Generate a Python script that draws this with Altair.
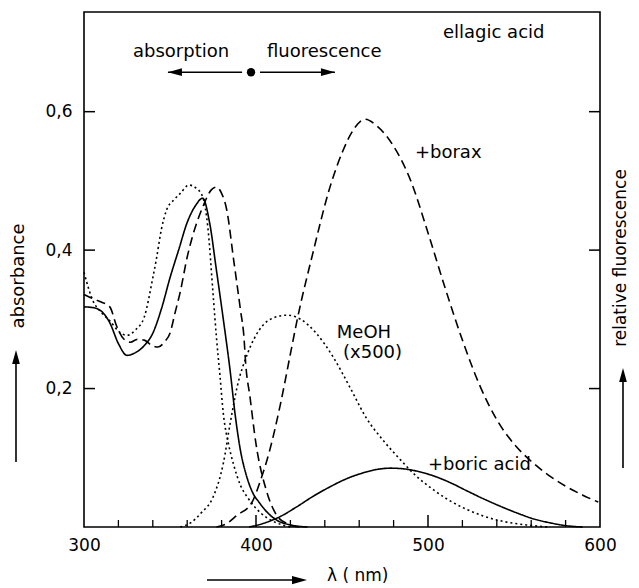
import altair as alt
import pandas as pd

# ---------------- data ----------------
# absorption spectra
abs_boric_wl = [300, 305, 310, 315, 320, 325, 330, 335, 340, 345, 350, 355, 360, 365, 369, 373, 377, 381, 385, 388, 391, 394, 398, 402, 407, 412, 420, 430]
abs_boric_v = [0.318, 0.317, 0.312, 0.295, 0.265, 0.248, 0.252, 0.262, 0.28, 0.315, 0.36, 0.40, 0.44, 0.465, 0.475, 0.44, 0.371, 0.30, 0.225, 0.16, 0.11, 0.078, 0.05, 0.035, 0.02, 0.01, 0.003, 0.0]

abs_meoh_wl = [300, 305, 310, 315, 320, 325, 330, 335, 340, 342, 345, 348, 352, 356, 361, 365, 369, 372, 375, 377, 379, 381, 384, 387, 391, 395, 400, 406, 412, 420]
abs_meoh_v = [0.368, 0.328, 0.31, 0.298, 0.283, 0.277, 0.285, 0.303, 0.36, 0.386, 0.43, 0.458, 0.472, 0.482, 0.494, 0.49, 0.477, 0.433, 0.338, 0.274, 0.22, 0.164, 0.12, 0.09, 0.06, 0.043, 0.027, 0.014, 0.006, 0.0]

abs_borax_wl = [300, 305, 310, 315, 319, 323, 327, 331, 335, 339, 343, 347, 350, 353, 356, 360, 363, 369, 374, 377, 380, 383, 387, 391, 393, 394, 396.5, 400, 406, 412, 418, 425]
abs_borax_v = [0.336, 0.33, 0.325, 0.318, 0.29, 0.272, 0.267, 0.271, 0.27, 0.263, 0.26, 0.268, 0.28, 0.31, 0.34, 0.39, 0.419, 0.462, 0.487, 0.491, 0.482, 0.458, 0.386, 0.313, 0.274, 0.236, 0.188, 0.12, 0.053, 0.017, 0.005, 0.0]

# fluorescence spectra
fl_meoh_wl = [356, 362, 368, 375, 381, 385, 389, 395, 402, 410, 418, 426, 435, 445, 455, 464, 474, 484, 493, 503, 512, 522, 532, 542, 557, 570]
fl_meoh_v = [0.0, 0.006, 0.02, 0.043, 0.092, 0.15, 0.202, 0.25, 0.285, 0.302, 0.306, 0.3, 0.28, 0.245, 0.2, 0.158, 0.125, 0.097, 0.074, 0.054, 0.039, 0.026, 0.016, 0.009, 0.003, 0.0]

fl_borax_wl = [377, 383, 389, 397.5, 403, 408, 414, 420, 424, 433, 443, 450.6, 456.4, 463.4, 470, 480, 490, 500, 510, 520, 530, 540, 550, 560, 570, 580, 590, 599]
fl_borax_v = [0.0, 0.005, 0.017, 0.035, 0.07, 0.111, 0.175, 0.25, 0.3, 0.395, 0.491, 0.544, 0.573, 0.589, 0.58, 0.55, 0.5, 0.425, 0.345, 0.27, 0.205, 0.155, 0.12, 0.095, 0.075, 0.059, 0.046, 0.036]

fl_boric_wl = [396, 404, 414, 423.6, 433, 443, 452, 462, 470, 478, 486, 493, 503, 513, 522, 532, 542, 552, 561, 571, 580, 590]
fl_boric_v = [0.0, 0.005, 0.015, 0.029, 0.044, 0.058, 0.069, 0.078, 0.083, 0.085, 0.084, 0.081, 0.074, 0.064, 0.053, 0.041, 0.03, 0.02, 0.012, 0.006, 0.002, 0.0]

# axis ticks
x_label_values = [300, 400, 500, 600]
x_major_ticks = [400, 500]
x_minor_ticks = [320, 340, 360, 380, 420, 440, 460, 480, 520, 540, 560, 580]
y_tick_values = [0.2, 0.4, 0.6]

# annotations inside the plot
ann_text = ["ellagic acid", "absorption", "fluorescence", "+borax", "MeOH", "(x500)", "+boric acid"]
ann_wl = [508.7, 328.5, 406.4, 492.4, 447, 450.6, 500]
ann_v = [0.713, 0.686, 0.686, 0.54, 0.28, 0.251, 0.0895]

arrow_v = 0.657
arrow_tail = [391.9, 402.3]
arrow_tip = [348.8, 445.9]
arrow_dir = ["left", "right"]
dot_wl = [397.1]

# ---------------- chart ----------------
W, H = 516, 515
FONT = "DejaVu Sans"
xs = alt.Scale(domain=[300, 600], nice=False, zero=False)
ys = alt.Scale(domain=[0, 0.744], nice=False, zero=False)

rows = []
for name, style, wl, val in [
    ("abs_boric", "solid", abs_boric_wl, abs_boric_v),
    ("abs_meoh", "dotted", abs_meoh_wl, abs_meoh_v),
    ("abs_borax", "dashed", abs_borax_wl, abs_borax_v),
    ("fl_meoh", "dotted", fl_meoh_wl, fl_meoh_v),
    ("fl_borax", "dashed", fl_borax_wl, fl_borax_v),
    ("fl_boric", "solid", fl_boric_wl, fl_boric_v),
]:
    for w, v in zip(wl, val):
        rows.append({"curve": name, "style": style, "wl": w, "v": v})
df = pd.DataFrame(rows)

lines = alt.Chart(df).mark_line(interpolate="monotone", color="black", strokeWidth=1.6).encode(
    x=alt.X("wl:Q", scale=xs, axis=alt.Axis(values=x_label_values, ticks=False, domain=False, grid=False,
                                            labelPadding=10, labelFontSize=17, labelFont=FONT,
                                            labelColor="black", title=None, labelFlush=False,
                                            labelOverlap=False)),
    y=alt.Y("v:Q", scale=ys, axis=alt.Axis(values=y_tick_values, ticks=False, domain=False, grid=False,
                                           labelPadding=12, labelFontSize=17, labelFont=FONT,
                                           labelColor="black", title=None, labelFlush=False,
                                           labelExpr="replace(format(datum.value, '.1f'), '.', ',')")),
    detail="curve:N",
    strokeDash=alt.StrokeDash("style:N", scale=alt.Scale(domain=["solid", "dotted", "dashed"],
                                                         range=[[1, 0], [2, 3], [9, 5]]), legend=None),
)

ydf = pd.DataFrame({"v": y_tick_values})
left_ticks = alt.Chart(ydf).mark_rule(color="black", strokeWidth=1.5).encode(
    y=alt.Y("v:Q", scale=ys), x=alt.value(0), x2=alt.value(11))
right_ticks = alt.Chart(ydf).mark_rule(color="black", strokeWidth=1.5).encode(
    y=alt.Y("v:Q", scale=ys), x=alt.value(W - 11), x2=alt.value(W))
major = alt.Chart(pd.DataFrame({"wl": x_major_ticks})).mark_rule(color="black", strokeWidth=1.5).encode(
    x=alt.X("wl:Q", scale=xs), y=alt.value(H), y2=alt.value(H - 12))
minor = alt.Chart(pd.DataFrame({"wl": x_minor_ticks})).mark_rule(color="black", strokeWidth=1.3).encode(
    x=alt.X("wl:Q", scale=xs), y=alt.value(H), y2=alt.value(H - 7))

ann = alt.Chart(pd.DataFrame({"t": ann_text, "wl": ann_wl, "v": ann_v})).mark_text(
    align="left", baseline="middle", font=FONT, fontSize=18, color="black").encode(
    x=alt.X("wl:Q", scale=xs), y=alt.Y("v:Q", scale=ys), text="t:N")

adf = pd.DataFrame({"tail": arrow_tail, "tip": arrow_tip, "dir": arrow_dir, "v": [arrow_v] * 2})
arrow_lines = alt.Chart(adf).mark_rule(color="black", strokeWidth=1.6).encode(
    x=alt.X("tail:Q", scale=xs), x2="tip:Q", y=alt.Y("v:Q", scale=ys))
RIGHT_HEAD = "M0,0L-2,-0.55L-2,0.55Z"
LEFT_HEAD = "M0,0L2,-0.55L2,0.55Z"
UP_HEAD = "M0,0L-0.55,2L0.55,2Z"
heads = alt.Chart(adf).mark_point(filled=True, color="black", opacity=1, size=196).encode(
    x=alt.X("tip:Q", scale=xs), y=alt.Y("v:Q", scale=ys),
    shape=alt.Shape("dir:N", scale=alt.Scale(domain=["left", "right"], range=[LEFT_HEAD, RIGHT_HEAD]), legend=None))
dot = alt.Chart(pd.DataFrame({"wl": dot_wl, "v": [arrow_v]})).mark_point(
    filled=True, color="black", opacity=1, size=70, shape="circle").encode(
    x=alt.X("wl:Q", scale=xs), y=alt.Y("v:Q", scale=ys))

one = pd.DataFrame({"a": [0]})
deco = [
    # absorbance title + up arrow (left)
    alt.Chart(one).mark_text(text="absorbance", angle=270, font=FONT, fontSize=18, color="black",
                             align="center", baseline="middle").encode(x=alt.value(-65), y=alt.value(264)),
    alt.Chart(one).mark_rule(color="black", strokeWidth=1.6).encode(x=alt.value(-68), y=alt.value(450), y2=alt.value(345)),
    alt.Chart(one).mark_point(shape=UP_HEAD, filled=True, color="black", opacity=1, size=196).encode(
        x=alt.value(-68), y=alt.value(338)),
    # relative fluorescence title + up arrow (right)
    alt.Chart(one).mark_text(text="relative  fluorescence", angle=270, font=FONT, fontSize=17, color="black",
                             align="center", baseline="middle").encode(x=alt.value(537), y=alt.value(246)),
    alt.Chart(one).mark_rule(color="black", strokeWidth=1.6).encode(x=alt.value(539), y=alt.value(456), y2=alt.value(362)),
    alt.Chart(one).mark_point(shape=UP_HEAD, filled=True, color="black", opacity=1, size=196).encode(
        x=alt.value(539), y=alt.value(356)),
    # bottom arrow + lambda label
    alt.Chart(one).mark_rule(color="black", strokeWidth=1.6).encode(x=alt.value(123), x2=alt.value(215), y=alt.value(568)),
    alt.Chart(one).mark_point(shape=RIGHT_HEAD, filled=True, color="black", opacity=1, size=225).encode(
        x=alt.value(223), y=alt.value(568)),
    alt.Chart(one).mark_text(text="\u03bb ( nm)", font=FONT, fontSize=17, color="black",
                             align="left", baseline="middle").encode(x=alt.value(243), y=alt.value(564)),
]

chart = alt.layer(lines, left_ticks, right_ticks, major, minor, ann, arrow_lines, heads, dot, *deco).properties(
    width=W, height=H,
    autosize=alt.AutoSizeParams(type="none"),
    padding={"left": 76, "top": 4, "right": 31, "bottom": 58},
    background="white",
).configure_view(stroke="black", strokeWidth=1.6)

chart.save("out.html", embed_options={"renderer": "svg", "actions": False})
